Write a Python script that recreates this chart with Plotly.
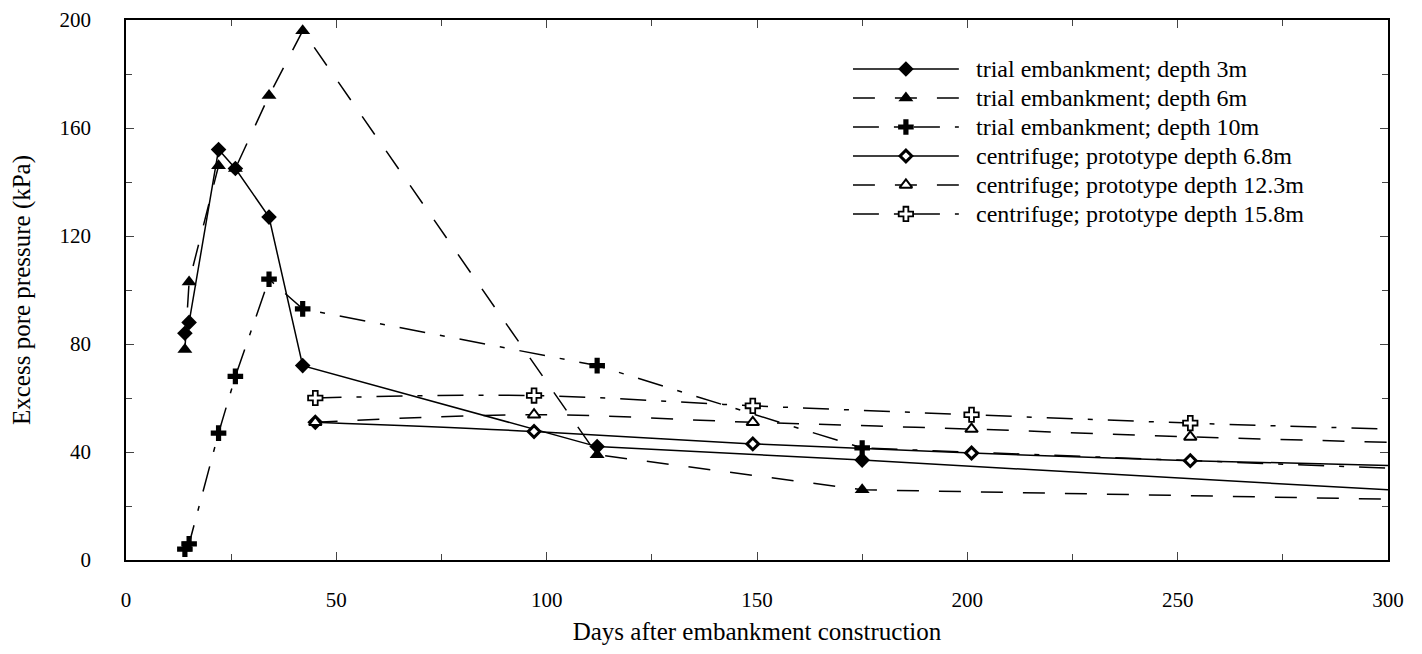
import plotly.graph_objects as go

# trial embankment readings (last value = where the line leaves the plot at 300 days)
days_trial = [14, 15, 22, 26, 34, 42, 112, 175, 300]
trial_3m = [84, 88, 152, 145, 127, 72, 42, 37, 26]
trial_6m = [78, 103, 146, 145, 172, 196, 39, 26, 22.5]
trial_10m = [4, 6, 47, 68, 104, 93, 72, 41.5, 34]

# centrifuge, prototype scale
days_cent = [45, 97, 149, 201, 253, 300]
cent_6_8m = [51, 47.6, 43, 39.6, 36.8, 35]
cent_12_3m = [51, 53.8, 51, 48.5, 45.6, 43.6]
cent_15_8m = [60, 60.9, 57.1, 53.8, 50.7, 48.5]

names = ["trial embankment; depth 3m", "trial embankment; depth 6m",
         "trial embankment; depth 10m", "centrifuge; prototype depth 6.8m",
         "centrifuge; prototype depth 12.3m", "centrifuge; prototype depth 15.8m"]

FONT = "Liberation Serif"
DASH = "22px,20px"
DASHDOT = "26px,15px,5px,15px"

styles = [
    dict(dash="solid", symbol="diamond", size=12, fill="black", lw=0, shape="linear"),
    dict(dash=DASH, symbol="triangle-up", size=13, fill="black", lw=0, shape="linear"),
    dict(dash=DASHDOT, symbol="cross", size=13, fill="black", lw=0, shape="linear"),
    dict(dash="solid", symbol="diamond", size=9, fill="white", lw=3, shape="spline"),
    dict(dash=DASH, symbol="triangle-up", size=11, fill="white", lw=2, shape="spline"),
    dict(dash=DASHDOT, symbol="cross", size=12, fill="white", lw=1.8, shape="spline"),
]
series = [(days_trial, trial_3m), (days_trial, trial_6m), (days_trial, trial_10m),
          (days_cent, cent_6_8m), (days_cent, cent_12_3m), (days_cent, cent_15_8m)]

fig = go.Figure()

for (xs, ys), st, nm in zip(series, styles, names):
    op = [1] * (len(xs) - 1) + [0]   # no marker at the clipped end
    fig.add_trace(go.Scatter(
        x=xs, y=ys, mode="lines+markers", name=nm, showlegend=False,
        line=dict(color="black", width=1.5, dash=st["dash"], shape=st["shape"], smoothing=1),
        marker=dict(symbol=st["symbol"], size=st["size"], color=st["fill"], opacity=op,
                    line=dict(color="black", width=st["lw"]))))

# hand-made legend with long line samples, drawn on a small helper axis
for k, (st, nm) in enumerate(zip(styles, names)):
    fig.add_trace(go.Scatter(
        x=[0, 0.5, 1], y=[k, k, k], mode="lines+markers", showlegend=False,
        xaxis="x2", yaxis="y2", hoverinfo="skip",
        line=dict(color="black", width=1.5, dash=st["dash"]),
        marker=dict(symbol=st["symbol"], size=st["size"], color=st["fill"], opacity=[0, 1, 0],
                    line=dict(color="black", width=st["lw"]))))
    fig.add_annotation(x=0.672, y=k, xref="paper", yref="y2", text=nm, showarrow=False,
                       xanchor="left", yanchor="middle",
                       font=dict(family=FONT, size=24, color="black"))

# the html body has an 8px margin, so the figure is shifted; margins compensate
fig.update_layout(
    width=1422, height=654,
    margin=dict(l=118, r=42, t=12, b=102),
    plot_bgcolor="white", paper_bgcolor="white",
    font=dict(family=FONT, size=21, color="black"),
    xaxis=dict(range=[0, 300], dtick=50, ticks="inside", ticklen=8, tickwidth=1.2,
               showline=True, linewidth=1.8, linecolor="black", mirror="ticks",
               showgrid=False, zeroline=False, ticklabelstandoff=20, automargin=False,
               minor=dict(dtick=25, ticks="inside", ticklen=6, tickwidth=1.2),
               title=dict(text="Days after embankment construction",
                          font=dict(family=FONT, size=25), standoff=11)),
    yaxis=dict(range=[0, 200], dtick=40, ticks="inside", ticklen=8, tickwidth=1.2,
               showline=True, linewidth=1.8, linecolor="black", mirror="ticks",
               showgrid=False, zeroline=False, ticklabelstandoff=29, automargin=False,
               minor=dict(dtick=20, ticks="inside", ticklen=6, tickwidth=1.2),
               title=dict(text="Excess pore pressure (kPa)",
                          font=dict(family=FONT, size=25), standoff=22)),
    xaxis2=dict(domain=[0.576, 0.660], range=[0, 1], anchor="y2", visible=False),
    yaxis2=dict(domain=[0.614, 0.936], range=[5.5, -0.5], anchor="x2", visible=False),
)

fig.write_html("out.html")
